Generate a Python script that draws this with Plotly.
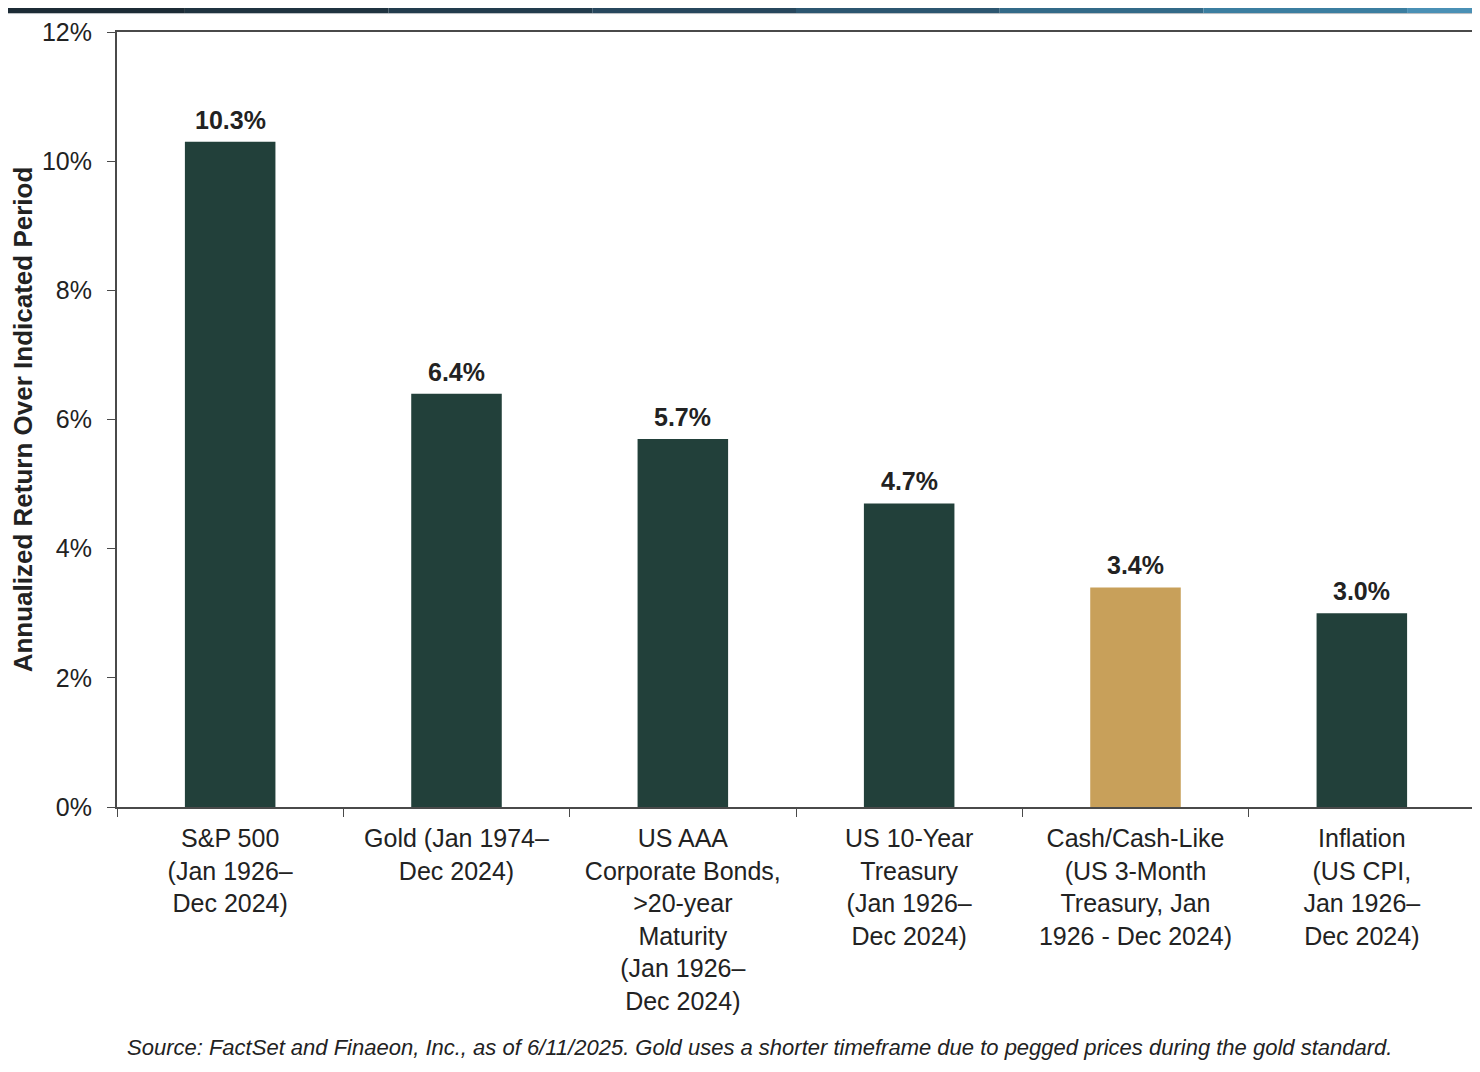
import plotly.graph_objects as go

categories = [
    "S&P 500<br>(Jan 1926–<br>Dec 2024)",
    "Gold (Jan 1974–<br>Dec 2024)",
    "US AAA<br>Corporate Bonds,<br>>20-year<br>Maturity<br>(Jan 1926–<br>Dec 2024)",
    "US 10-Year<br>Treasury<br>(Jan 1926–<br>Dec 2024)",
    "Cash/Cash-Like<br>(US 3-Month<br>Treasury, Jan<br>1926 - Dec 2024)",
    "Inflation<br>(US CPI,<br>Jan 1926–<br>Dec 2024)",
]
values = [10.3, 6.4, 5.7, 4.7, 3.4, 3.0]
bar_colors = ["#22403A", "#22403A", "#22403A", "#22403A", "#C8A05A", "#22403A"]
y_ticks = [0, 2, 4, 6, 8, 10, 12]
y_tick_labels = ["0%", "2%", "4%", "6%", "8%", "10%", "12%"]
source_text = ("Source: FactSet and Finaeon, Inc., as of 6/11/2025. "
               "Gold uses a shorter timeframe due to pegged prices during the gold standard.")

FONT = "Liberation Sans, Arial, sans-serif"
TXT = "#222222"

fig = go.Figure()
fig.add_trace(go.Bar(
    x=categories, y=values,
    marker=dict(color=bar_colors, line=dict(width=0)),
    width=0.4,
    hoverinfo="skip",
))

for c, v in zip(categories, values):
    fig.add_annotation(
        x=c, y=v, text=f"<b>{v:.1f}%</b>", showarrow=False,
        yanchor="bottom", yshift=6,
        font=dict(family=FONT, size=25, color=TXT),
    )

fig.add_annotation(
    xref="paper", yref="paper", x=0.4728, y=-0.3097, xanchor="center", yanchor="middle",
    text=f"<i>{source_text}</i>", showarrow=False,
    font=dict(family=FONT, size=22, color=TXT),
)

# thin dark/blue strip at top of the image
strip_cols = ["#1c2b35", "#1f3340", "#223c4d", "#27475d", "#2c5670", "#336a88", "#3b7ea0", "#4a90b5"]
n = len(strip_cols)
for i, col in enumerate(strip_cols):
    fig.add_shape(type="rect", xref="paper", yref="paper",
                  x0=-0.1 + i * 1.2 / n, x1=-0.1 + (i + 1) * 1.2 / n,
                  y0=1.0245, y1=1.031, fillcolor=col, line=dict(width=0), layer="above")
fig.add_shape(type="line", xref="paper", yref="paper", x0=-0.1, x1=1.1, y0=1.0238, y1=1.0238,
              line=dict(color="#b8bcc0", width=1), layer="above")

fig.update_layout(
    width=1472, height=1064,
    margin=dict(l=109, r=5, t=24, b=265),
    paper_bgcolor="white", plot_bgcolor="white",
    showlegend=False,
    bargap=0.6,
    xaxis=dict(
        showline=True, linecolor="#4a4a4a", linewidth=2, mirror=True,
        ticks="outside", tickson="boundaries", ticklen=8, tickcolor="#4a4a4a",
        tickfont=dict(family=FONT, size=25, color=TXT), showgrid=False,
        ticklabelstandoff=8, automargin=False,
    ),
    yaxis=dict(
        range=[0, 12], tickvals=y_ticks, ticktext=y_tick_labels,
        showline=True, linecolor="#4a4a4a", linewidth=2, mirror=True,
        ticks="outside", ticklen=8, tickcolor="#4a4a4a",
        tickfont=dict(family=FONT, size=25, color=TXT),
        ticklabelstandoff=10,
        showgrid=False, zeroline=False, automargin=False,
        title=dict(text="<b>Annualized Return Over Indicated Period</b>",
                   font=dict(family=FONT, size=26, color=TXT),
                   standoff=4),
    ),
)

fig.write_html("out.html")
